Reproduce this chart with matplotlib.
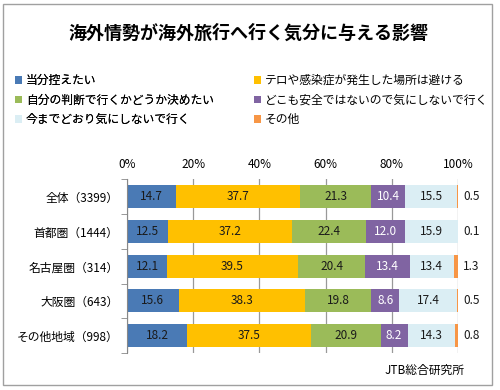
import matplotlib.pyplot as plt
from matplotlib.patches import Rectangle

plt.rcParams['font.family'] = ['Noto Sans CJK JP', 'DejaVu Sans']

regions = ['全体（3399）', '首都圏（1444）', '名古屋圏（314）', '大阪圏（643）', 'その他地域（998）']
series = ['当分控えたい', 'テロや感染症が発生した場所は避ける', '自分の判断で行くかどうか決めたい',
          'どこも安全ではないので気にしないで行く', '今までどおり気にしないで行く', 'その他']
values = [
    [14.7, 12.5, 12.1, 15.6, 18.2],
    [37.7, 37.2, 39.5, 38.3, 37.5],
    [21.3, 22.4, 20.4, 19.8, 20.9],
    [10.4, 12.0, 13.4, 8.6, 8.2],
    [15.5, 15.9, 13.4, 17.4, 14.3],
    [0.5, 0.1, 1.3, 0.5, 0.8],
]
colors = ['#4a7ab5', '#ffc000', '#9bbb59', '#8064a2', '#dbeef4', '#f79646']
txt_colors = ['#1a1a1a', '#1a1a1a', '#1a1a1a', 'white', '#1a1a1a', '#1a1a1a']

fig = plt.figure(figsize=(5, 3.9), dpi=100)
fig.patches.append(Rectangle((0.006, 0.013), 0.978, 0.978, transform=fig.transFigure,
                             fill=False, edgecolor='#a0a0a0', lw=1))
ax = fig.add_axes([0.254, 0.095, 0.662, 0.445])

ypos = list(range(len(regions)))
left = [0] * len(regions)
bars = []
for i, (name, vals) in enumerate(zip(series, values)):
    b = ax.barh(ypos, vals, left=left, height=0.66, color=colors[i], label=name, zorder=2)
    bars.append(b)
    for y, v, l in zip(ypos, vals, left):
        if i == len(series) - 1:
            ax.text(101.5, y, f'{v:.1f}', va='center', ha='left', fontsize=8.5, color='#1a1a1a')
        else:
            ax.text(l + v / 2, y, f'{v:.1f}', va='center', ha='center', fontsize=8.5,
                    color=txt_colors[i])
    left = [a + b for a, b in zip(left, vals)]

ax.set_xlim(0, 100)
ax.set_ylim(len(regions) - 0.5, -0.5)
ax.xaxis.tick_top()
ax.set_xticks([0, 20, 40, 60, 80, 100])
ax.set_xticklabels(['0%', '20%', '40%', '60%', '80%', '100%'], fontsize=8.5)
ax.tick_params(axis='x', length=0, pad=6)
ax.set_yticks(ypos)
ax.set_yticklabels(regions, fontsize=8.5)
ax.set_yticks([i + 0.5 for i in range(-1, len(regions))], minor=True)
ax.tick_params(axis='y', which='major', length=0, pad=6)
ax.tick_params(axis='y', which='minor', length=4, color='#888888')
ax.grid(axis='x', color='#999999', lw=0.9, zorder=0)
for s in ['top', 'right', 'bottom']:
    ax.spines[s].set_visible(False)
ax.spines['left'].set_color('#888888')

fig.text(0.496, 0.915, '海外情勢が海外旅行へ行く気分に与える影響', ha='center', va='center',
         fontsize=13, fontweight='bold')

leg_kw = dict(frameon=False, fontsize=8.5, handlelength=0.6, handleheight=0.6,
              handletextpad=0.3, labelspacing=0.55, borderaxespad=0, borderpad=0)
leg1 = fig.legend([bars[0], bars[2], bars[4]], [series[0], series[2], series[4]],
                  loc='upper left', bbox_to_anchor=(0.03, 0.81), **leg_kw)
fig.add_artist(leg1)
fig.legend([bars[1], bars[3], bars[5]], [series[1], series[3], series[5]],
           loc='upper left', bbox_to_anchor=(0.508, 0.81), **leg_kw)

fig.text(0.93, 0.05, 'JTB総合研究所', ha='right', va='center', fontsize=8.5)

fig.savefig('out.png', dpi=100)
